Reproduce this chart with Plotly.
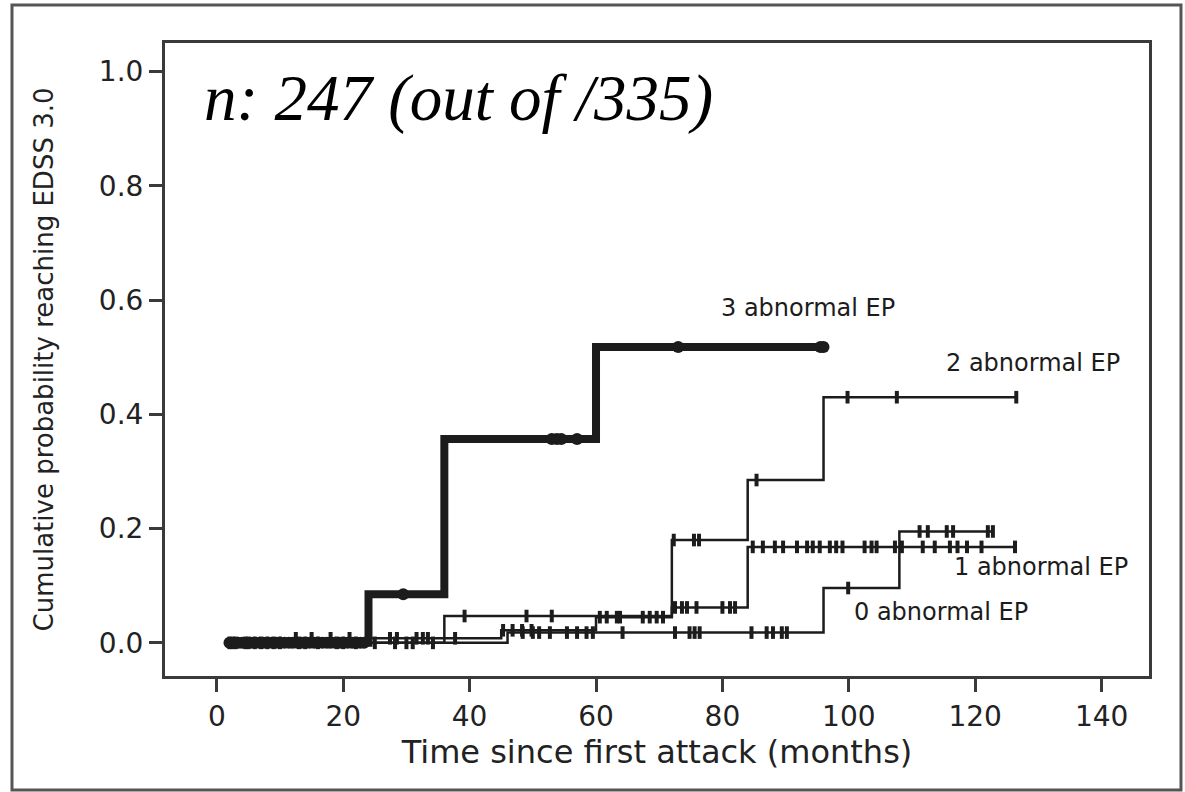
import plotly.graph_objects as go

# ---- Data ----
# Kaplan-Meier style step curves: event times (months) and cumulative probability
t3 = [1.5, 24, 36, 60, 96]
p3 = [0.0, 0.085, 0.357, 0.518, 0.518]
t2 = [1.5, 36, 72, 84, 96, 126.5]
p2 = [0.0, 0.047, 0.18, 0.285, 0.43, 0.43]
t1 = [1.5, 12, 45, 60, 72, 84, 126.3]
p1 = [0.0, 0.008, 0.022, 0.045, 0.062, 0.168, 0.168]
t0 = [1.5, 46, 96, 108, 122.6]
p0 = [0.0, 0.018, 0.096, 0.195, 0.195]

# censoring times
c3 = [2, 2.7, 3.4, 4, 4.7, 5.4, 6, 6.7, 7.4, 8, 8.7, 9.4, 10, 10.7, 11.4, 12, 12.7, 13.4,
      14, 14.7, 15.4, 16, 16.7, 17.4, 18, 18.7, 19.4, 20, 20.7, 21.4, 22, 22.7, 23.3,
      29.5, 53, 53.8, 54.5, 57, 73, 95.5, 96]
c2 = [2.5, 4.5, 8, 14, 19, 25, 30, 39.2, 49, 53, 72.3, 75.5, 76.3, 85.4, 99.8, 107.6, 126.5]
c1 = [3, 6, 9, 12.5, 15, 18, 21, 24, 27.4, 28.5, 31.6, 32.6, 33.4, 37.7, 45.3, 46.8,
      48.3, 49.8, 60.6, 61.7, 63.3, 63.8, 67.4, 68.5, 69.6, 70.6, 72.5, 73.6, 74.4, 75.9,
      80, 81.2, 82, 84.8, 86.4, 88.3, 89.6, 91.8, 93.4, 94.3, 95.4, 97, 98, 99, 102.5,
      103.6, 104.4, 107.3, 108.4, 111.7, 113.6, 116, 117.2, 118.7, 121, 126.3]
c0 = [2, 5, 7, 10, 13, 16, 20, 22, 28.2, 31, 34.2, 48.4, 50, 51, 52.7, 55.4, 57, 58.5,
      59.5, 64.2, 72.5, 74.8, 75.6, 76.4, 84.6, 87, 88, 89.4, 90.2, 99.9, 111.2, 112.5,
      115.5, 116.5, 122, 122.8]

labels = ["3 abnormal EP", "2 abnormal EP", "1 abnormal EP", "0 abnormal EP"]
label_x = [93.5, 129.1, 130.4, 114.6]
label_y = [0.586, 0.49, 0.133, 0.054]

x_ticks = [0, 20, 40, 60, 80, 100, 120, 140]
y_ticks = [0.0, 0.2, 0.4, 0.6, 0.8, 1.0]


def step_value(ts, ps, t):
    v = ps[0]
    for ti, pi in zip(ts, ps):
        if ti <= t:
            v = pi
    return v


INK = "#1c1c1c"
AX = "#3a3a3a"
FONT = "DejaVu Sans"

fig = go.Figure()

thin_mk = dict(symbol="line-ns", size=9, line=dict(width=4, color=INK), color=INK)
groups = [
    (t3, p3, c3, 8, dict(symbol="circle", size=12, color=INK)),
    (t2, p2, c2, 2.5, thin_mk),
    (t1, p1, c1, 2.5, thin_mk),
    (t0, p0, c0, 2.5, thin_mk),
]

for ts, ps, cs, w, mk in groups:
    fig.add_trace(go.Scatter(x=ts, y=ps, mode="lines", line=dict(shape="hv", width=w, color=INK),
                             showlegend=False, hoverinfo="skip"))
    fig.add_trace(go.Scatter(x=cs, y=[step_value(ts, ps, c) for c in cs], mode="markers",
                             marker=mk, showlegend=False, hoverinfo="skip"))

for txt, lx, ly in zip(labels, label_x, label_y):
    fig.add_annotation(x=lx, y=ly, text=txt, showarrow=False, xanchor="center", yanchor="middle",
                       font=dict(family=FONT, size=24, color=INK))

fig.add_annotation(x=-2.4, y=0.954, text="n: 247 (out of /335)", showarrow=False,
                   xanchor="left", yanchor="middle",
                   font=dict(family="Liberation Serif", size=65, color="#000", style="italic"))

# outer frame
fig.add_shape(type="rect", xref="paper", yref="paper", x0=-0.1555, x1=1.0325, y0=-0.18, y1=1.06,
              line=dict(color="#555", width=3), fillcolor="rgba(0,0,0,0)")

fig.update_layout(
    width=1185, height=792,
    margin=dict(l=165, r=36, t=43, b=116),
    paper_bgcolor="white", plot_bgcolor="white",
    xaxis=dict(range=[-8.2, 147.5], tickvals=x_ticks, ticktext=[str(v) for v in x_ticks],
               showline=True, mirror=True, linewidth=3, linecolor=AX,
               ticks="outside", ticklen=13, tickwidth=3, tickcolor=AX,
               showgrid=False, zeroline=False,
               tickfont=dict(family=FONT, size=28, color="#222"),
               title=dict(text="Time since first attack (months)", standoff=6,
                          font=dict(family=FONT, size=32, color="#222"))),
    yaxis=dict(range=[-0.058, 1.05], tickvals=y_ticks, ticktext=["%.1f" % v for v in y_ticks],
               showline=True, mirror=True, linewidth=3, linecolor=AX,
               ticks="outside", ticklen=13, tickwidth=3, tickcolor=AX,
               showgrid=False, zeroline=False,
               tickfont=dict(family=FONT, size=28, color="#222"),
               title=dict(text="Cumulative probability reaching EDSS 3.0", standoff=38,
                          font=dict(family=FONT, size=26, color="#222"))),
)

fig.write_html("out.html")
